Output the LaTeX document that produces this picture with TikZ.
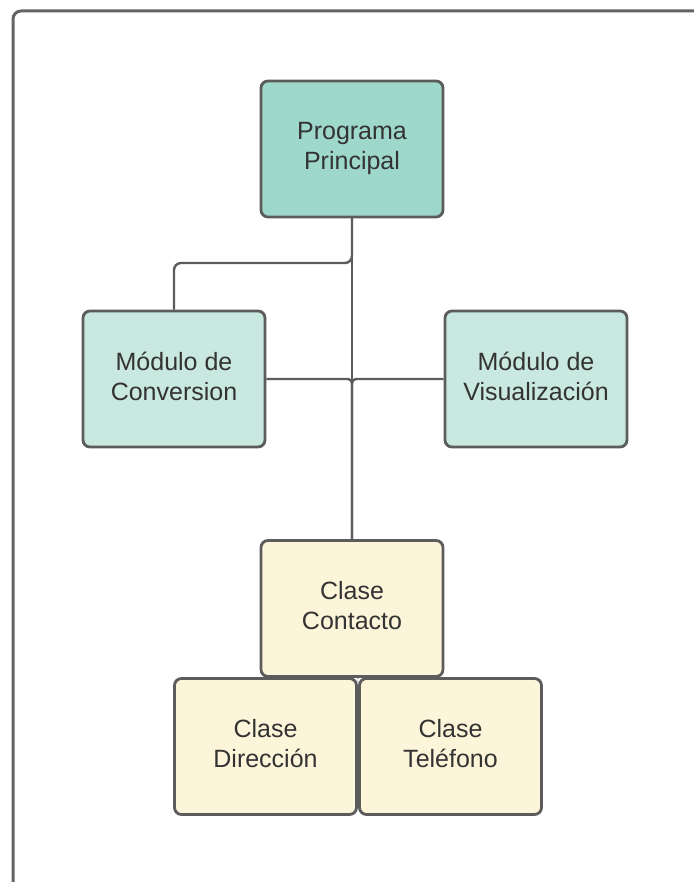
\documentclass[tikz,border=0pt]{standalone}
\usepackage{fontspec}
\setmainfont{Liberation Sans}
\usetikzlibrary{calc}
\definecolor{edgegray}{HTML}{5C5C5C}
\definecolor{framegray}{HTML}{646464}
\definecolor{textgray}{HTML}{333333}
\definecolor{tealdark}{HTML}{9ED8CB}
\definecolor{teallight}{HTML}{C8E8E0}
\definecolor{cream}{HTML}{FDF5DA}
% two centred lines, lifted slightly above the box centre
\newcommand\twolines[2]{\raisebox{4pt}{\begin{tabular}{@{}c@{}}#1\\#2\end{tabular}}}
\tikzset{
  box/.style={draw=edgegray, line width=2.8pt, rounded corners=7pt,
    minimum width=182pt, minimum height=136pt, align=center,
    text=textgray, font=\fontsize{25}{30}\selectfont, inner sep=0pt},
  conn/.style={draw=edgegray, line width=2.4pt},
}
\begin{document}
\begin{tikzpicture}[x=1pt,y=-1pt]
\useasboundingbox (0,0) rectangle (693,882);
\fill[white] (0,0) rectangle (693,882);
% outer frame, running past the page edge
\draw[framegray, line width=3pt, rounded corners=8pt] (13,900) -- (13,11) -- (710,11);

% boxes
\node[box, fill=tealdark] (prog) at (352,149) {\twolines{Programa}{Principal}};
\node[box, fill=teallight] (conv) at (174,379) {\twolines{Módulo de}{Conversion}};
\node[box, fill=teallight] (vis) at (536,379) {\twolines{Módulo de}{Visualización}};
\node[box, fill=cream] (cont) at (352,608.5) {\twolines{Clase}{Contacto}};
\node[box, fill=cream] (dir) at (265.5,746.5) {\twolines{Clase}{Dirección}};
\node[box, fill=cream] (tel) at (450.5,746.5) {\twolines{Clase}{Teléfono}};

% connectors
\coordinate (split) at (352,263);
\coordinate (cross) at (352,379);
\draw[conn] (prog.south) -- (cont.north);
\draw[conn, rounded corners=7pt] (conv.north) |- (split) -- (prog.south);
\draw[conn, rounded corners=4pt] (cont.north) -- (cross) -- (conv.east);
\draw[conn, rounded corners=4pt] (cont.north) -- (cross) -- (vis.west);
\coordinate (base) at ($(dir.north east)!0.5!(tel.north west)$);
\fill[edgegray] ($(base)+(-4,0)$) .. controls ($(base)+(0,0)$) .. ($(base)+(0,6)$)
  .. controls ($(base)+(0,0)$) .. ($(base)+(4,0)$) -- cycle;
\end{tikzpicture}
\end{document}
